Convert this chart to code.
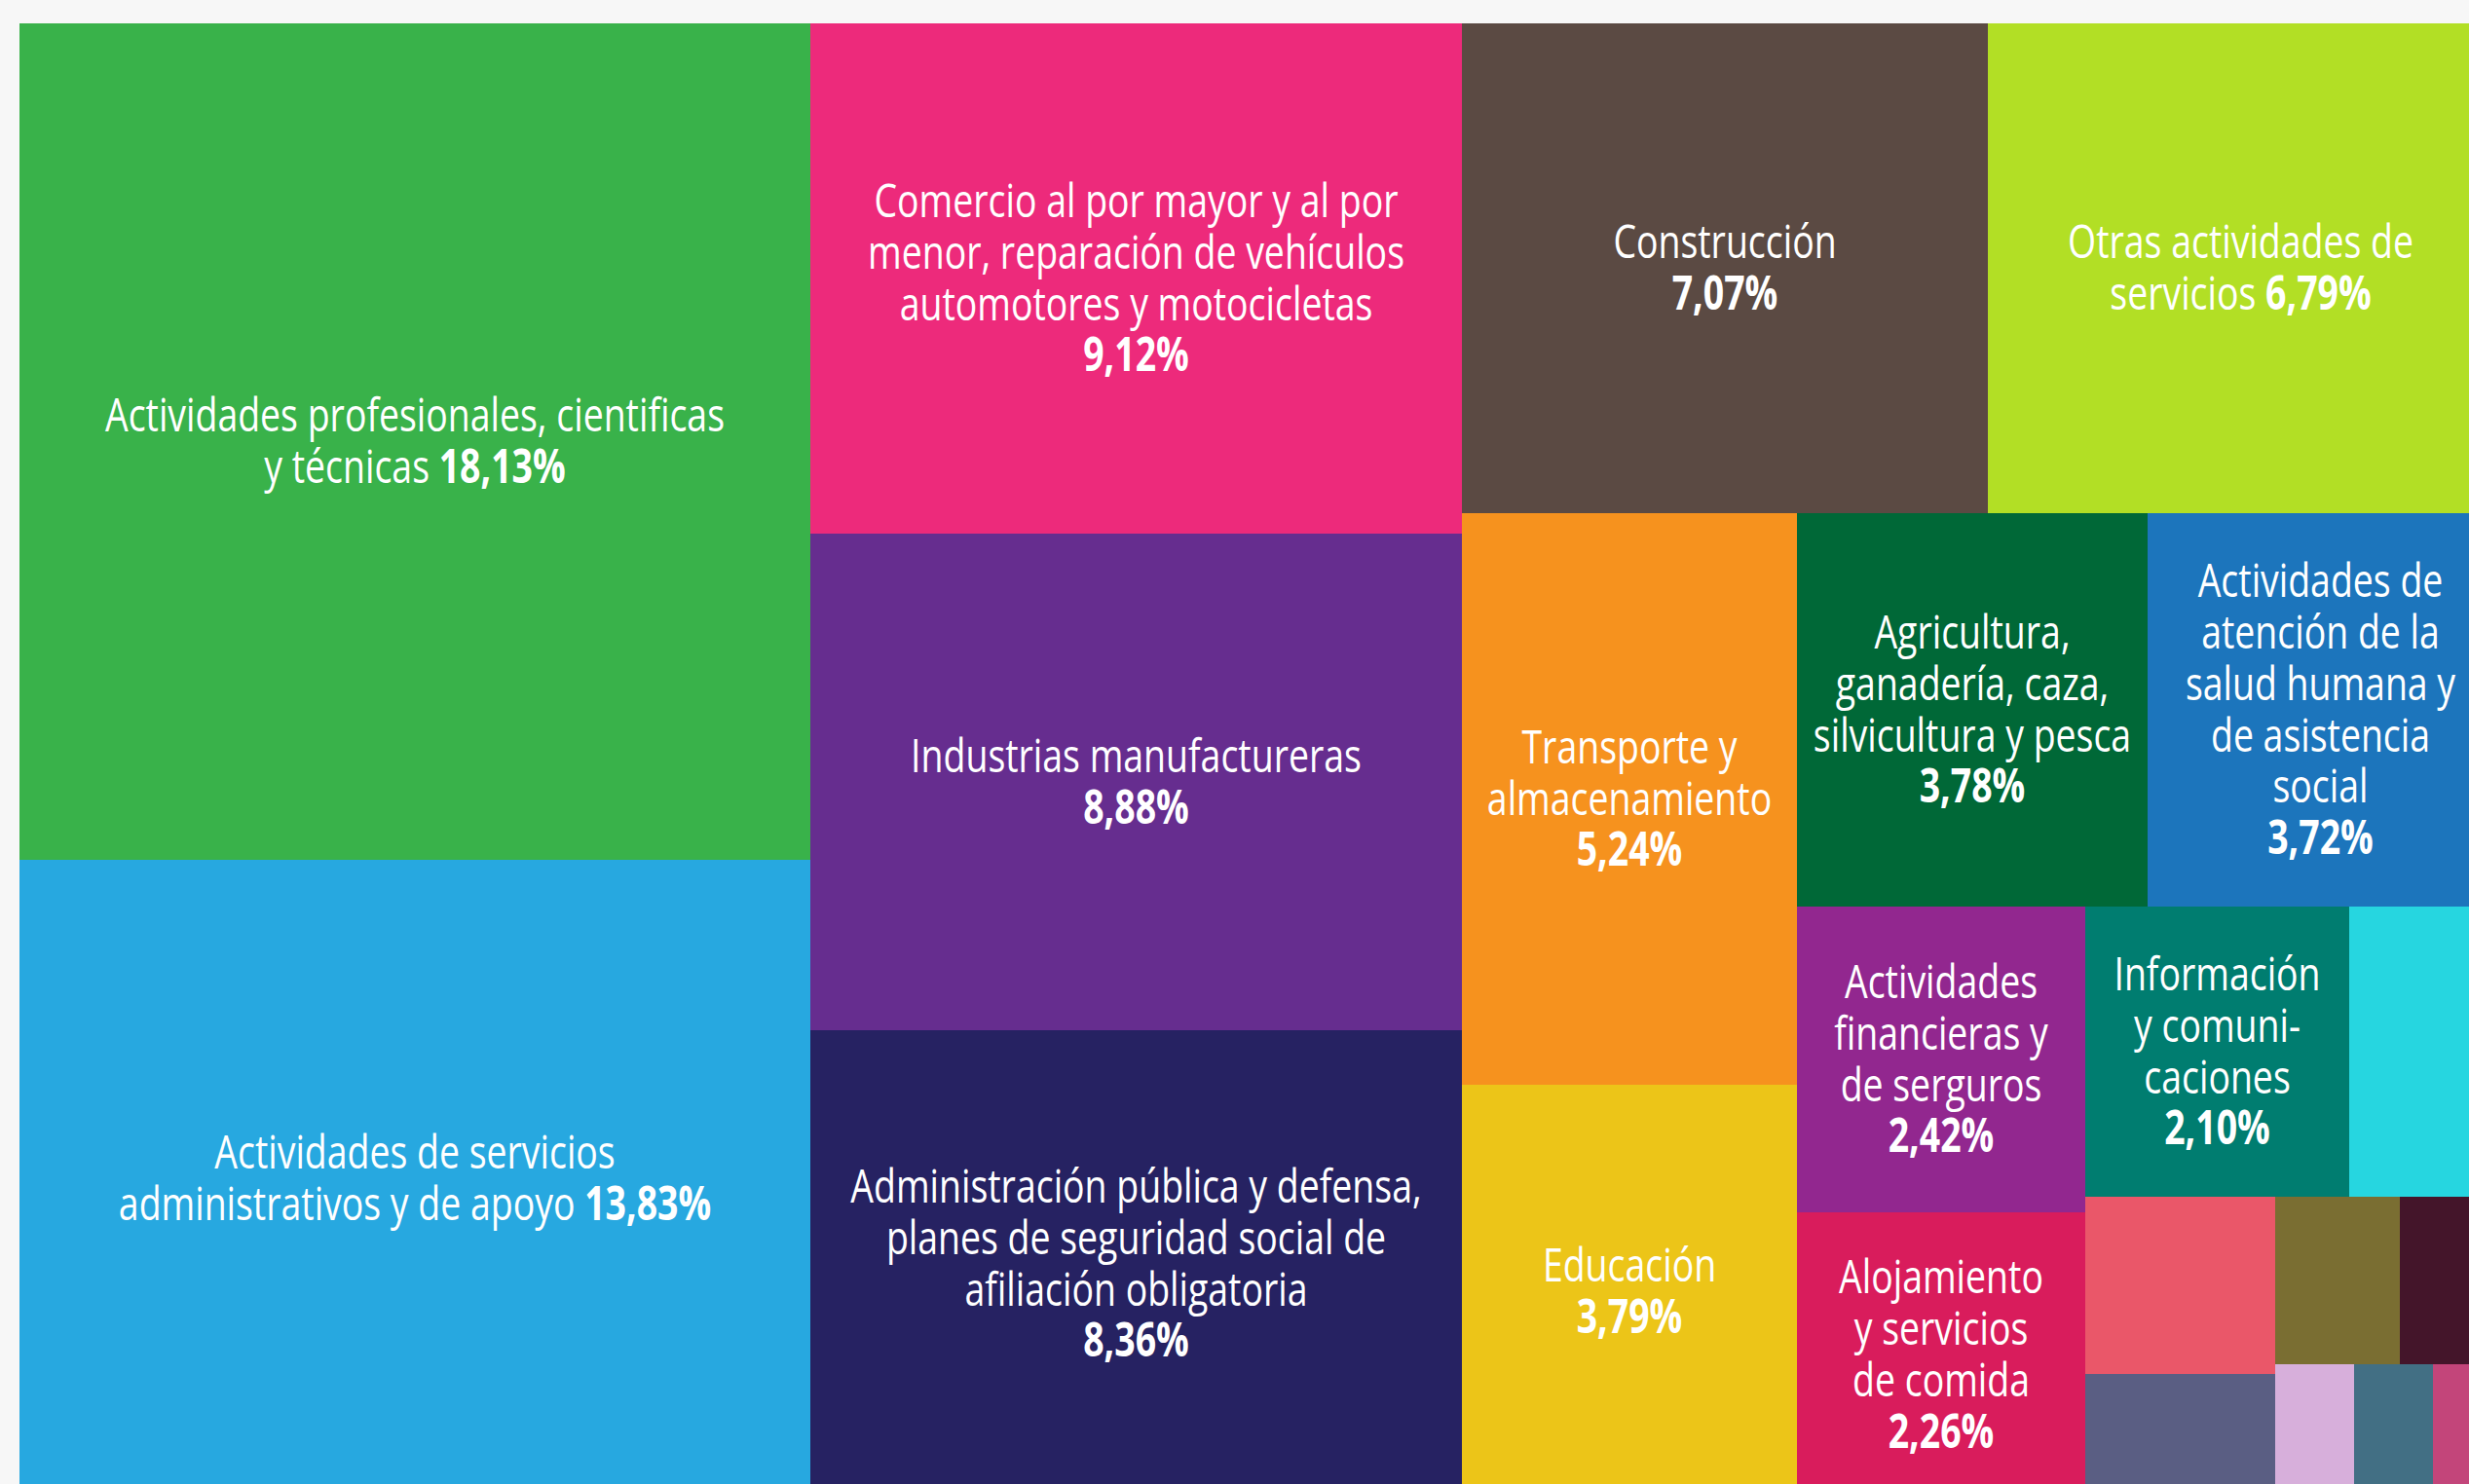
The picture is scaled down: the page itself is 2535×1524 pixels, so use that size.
<!DOCTYPE html>
<html>
<head>
<meta charset="utf-8">
<script src="https://cdn.jsdelivr.net/npm/d3@7"></script>
<style>
  html, body { margin: 0; padding: 0; background: #f7f7f7; overflow: hidden; }
  svg { display: block; }
  .label { font-family: "Open Sans", sans-serif; font-size: 48px; fill: #fff; }
  .pct { font-weight: 700; }
</style>
</head>
<body>
<script>
// share of companies by economic sector (%)
const sectors = [
  "Actividades profesionales, cientificas y técnicas",
  "Actividades de servicios administrativos y de apoyo",
  "Comercio al por mayor y al por menor, reparación de vehículos automotores y motocicletas",
  "Industrias manufactureras",
  "Administración pública y defensa, planes de seguridad social de afiliación obligatoria",
  "Construcción",
  "Otras actividades de servicios",
  "Transporte y almacenamiento",
  "Educación",
  "Agricultura, ganadería, caza, silvicultura y pesca",
  "Actividades de atención de la salud humana y de asistencia social",
  "Actividades financieras y de serguros",
  "Alojamiento y servicios de comida",
  "Información y comunicaciones",
  "Otro 1", "Otro 2", "Otro 3", "Otro 4", "Otro 5", "Otro 6", "Otro 7", "Otro 8"
];
const shares = [
  18.13, 13.83, 9.12, 8.88, 8.36, 7.07, 6.79, 5.24, 3.79, 3.78, 3.72,
  2.42, 2.26, 2.10, 1.15, 0.92, 0.64, 0.57, 0.43, 0.29, 0.29, 0.22
];
const colors = [
  "#39b24a", "#27a8e0", "#ed2a7b", "#662d8f", "#262262", "#5b4a43", "#b2df25",
  "#f6921e", "#ecc518", "#006837", "#1c75bc", "#92278f", "#d91c5c", "#007d70",
  "#26d6e0", "#ea5769", "#5a5e83", "#7a6e32", "#44152a", "#d7afdb", "#426f84", "#c3457a"
];
// how each label breaks into lines
const labelLines = [
  ["Actividades profesionales, cientificas", "y técnicas"],
  ["Actividades de servicios", "administrativos y de apoyo"],
  ["Comercio al por mayor y al por", "menor, reparación de vehículos", "automotores y motocicletas"],
  ["Industrias manufactureras"],
  ["Administración pública y defensa,", "planes de seguridad social de", "afiliación obligatoria"],
  ["Construcción"],
  ["Otras actividades de", "servicios"],
  ["Transporte y", "almacenamiento"],
  ["Educación"],
  ["Agricultura,", "ganadería, caza,", "silvicultura y pesca"],
  ["Actividades de", "atención de la", "salud humana y", "de asistencia", "social"],
  ["Actividades", "financieras y", "de serguros"],
  ["Alojamiento", "y servicios", "de comida"],
  ["Información", "y comuni-", "caciones"]
];
const pctInline = [true, true, false, false, false, false, true, false, false, false, false, false, false, false];
// strips of the treemap, one inside the rest of the other
const strips = [[0, 1], [2, 3, 4], [5, 6], [7, 8], [9, 10], [11, 12], [13, 14], [15, 16], [17, 18], [19, 20, 21]];

const width = 2535;
const height = 1524;
const margin = { top: 24, left: 20 };
const mapWidth = 2540;
const mapHeight = 1514;
const lineHeight = 53;
const squeeze = 0.78;

const strip = (s) => ({ children: s.map((i) => ({ index: i, value: shares[i] })) });
const nest = (k) => ({
  children: [strip(strips[k]), k + 2 === strips.length ? strip(strips[k + 1]) : nest(k + 1)]
});
const data = { children: [strip(strips[0]), strip(strips[1]), nest(2)] };

const root = d3.hierarchy(data).sum((d) => d.value || 0);
d3.treemap().tile(d3.treemapSliceDice).size([mapWidth, mapHeight]).round(true)(root);

const fmt = (v) => d3.format(".2f")(v).replace(".", ",") + "%";

const svg = d3
  .select("body")
  .append("svg")
  .attr("width", width)
  .attr("height", height);

const g = svg.append("g").attr("transform", `translate(${margin.left},${margin.top})`);

const cell = g
  .selectAll("g.cell")
  .data(root.leaves())
  .enter()
  .append("g")
  .attr("class", "cell");

cell
  .append("rect")
  .attr("x", (d) => d.x0)
  .attr("y", (d) => d.y0)
  .attr("width", (d) => d.x1 - d.x0)
  .attr("height", (d) => d.y1 - d.y0)
  .attr("fill", (d) => colors[d.data.index]);

cell
  .filter((d) => labelLines[d.data.index])
  .each(function (d) {
    const i = d.data.index;
    const lines = labelLines[i].map((t) => [t, null]);
    if (pctInline[i]) {
      lines[lines.length - 1][1] = fmt(shares[i]);
    } else {
      lines.push(["", fmt(shares[i])]);
    }
    const n = lines.length;
    const text = d3
      .select(this)
      .append("text")
      .attr("class", "label")
      .attr("text-anchor", "middle")
      .attr(
        "transform",
        `translate(${(d.x0 + d.x1) / 2},${(d.y0 + d.y1) / 2}) scale(${squeeze},1)`
      );
    lines.forEach(([t, p], k) => {
      const y = (k - (n - 1) / 2) * lineHeight + 16;
      const line = text.append("tspan").attr("x", 0).attr("y", y);
      if (t) line.append("tspan").text(p ? t + " " : t);
      if (p) line.append("tspan").attr("class", "pct").text(p);
    });
  });
</script>
</body>
</html>
